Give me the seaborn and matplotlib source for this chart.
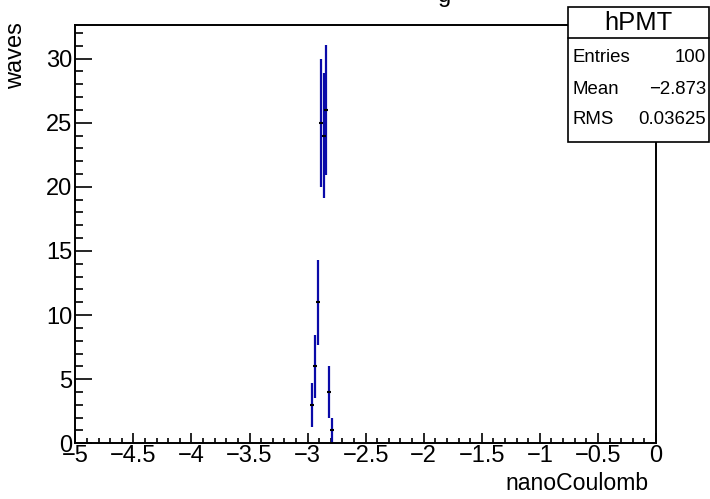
import numpy as np
import pandas as pd
import seaborn as sns
import matplotlib.pyplot as plt
from matplotlib.patches import Rectangle
from matplotlib.ticker import MultipleLocator

# Histogram hPMT: bin width 0.025 nC, only non-empty bins listed
bin_centers = [-2.9625, -2.9375, -2.9125, -2.8875, -2.8625, -2.8375, -2.8125, -2.7875]
counts = [3, 6, 11, 25, 24, 26, 4, 1]
x_ticks = [-5, -4.5, -4, -3.5, -3, -2.5, -2, -1.5, -1, -0.5, 0]
y_ticks = [0, 5, 10, 15, 20, 25, 30]
stat_names = ['Entries', 'Mean', 'RMS']
stat_values = ['100', '\u22122.873', '0.03625']

df = pd.DataFrame({'charge': bin_centers, 'waves': counts})
df['err'] = np.sqrt(df['waves'])

sns.set_style('ticks')
plt.rcParams['font.family'] = ['Liberation Sans', 'DejaVu Sans']
plt.rcParams['text.color'] = 'black'
plt.rcParams['xtick.color'] = 'black'
plt.rcParams['ytick.color'] = 'black'
plt.rcParams['axes.edgecolor'] = 'black'

W, H = 710, 499
fig = plt.figure(figsize=(W / 100, H / 100), dpi=100)
ax = fig.add_axes([75.3 / W, 1 - 443.3 / H, (656 - 75.3) / W, (443.3 - 24.5) / H])

# error bars (ROOT style: vertical lines only)
ax.vlines(df['charge'], df['waves'] - df['err'], df['waves'] + df['err'],
          color='#0a0aa8', linewidth=1.6, zorder=2)
sns.scatterplot(data=df, x='charge', y='waves', ax=ax, color='black',
                marker='_', s=8, linewidth=1.5, zorder=3, legend=False)

ax.set_xlim(-5, 0)
ax.set_ylim(0, 32.66)
ax.set_xticks(x_ticks)
ax.set_xticklabels([f'{t:g}'.replace('-', '\u2212') for t in x_ticks])
ax.set_yticks(y_ticks)
ax.xaxis.set_minor_locator(MultipleLocator(0.1))
ax.yaxis.set_minor_locator(MultipleLocator(1))
ax.tick_params(axis='x', which='major', direction='in', length=7.2, width=1.2,
               labelsize=17, pad=1, top=False)
ax.tick_params(axis='x', which='minor', direction='in', length=3.6, width=1.2, top=False)
ax.tick_params(axis='y', which='major', direction='in', length=12, width=1.2,
               labelsize=17, pad=2, right=False)
ax.tick_params(axis='y', which='minor', direction='in', length=6, width=1.2, right=False)
for sp in ax.spines.values():
    sp.set_linewidth(1.4)
    sp.set_visible(True)
ax.set_xlabel('')
ax.set_ylabel('')

fig.text(649 / W, 1 - 484 / H, 'nanoCoulomb', ha='right', va='center', fontsize=16.6)
fig.text(16 / W, 1 - 22 / H, 'waves', ha='center', va='top', rotation=90, fontsize=17)

# clipped title fragment at the very top
fig.text(445 / W, 1 - 2 / H, 'g', ha='center', va='baseline', fontsize=17)

# stat box
bx0, bx1, by0, by1, byh = 568.3, 709, 7.3, 141.7, 37.7
fig.patches.append(Rectangle((bx0 / W, 1 - by1 / H), (bx1 - bx0) / W, (by1 - by0) / H,
                             transform=fig.transFigure, facecolor='white',
                             edgecolor='black', linewidth=1.2, zorder=5))
fig.lines.append(plt.Line2D([bx0 / W, bx1 / W], [1 - byh / H, 1 - byh / H],
                            transform=fig.transFigure, color='black', linewidth=1.2, zorder=6))
fig.text((bx0 + bx1) / 2 / W, 1 - 23 / H, 'hPMT', ha='center', va='center',
         fontsize=18.4, zorder=7)
row_y = [58, 89, 119]
for name, val, yy in zip(stat_names, stat_values, row_y):
    fig.text(573 / W, 1 - yy / H, name, ha='left', va='center', fontsize=13.4, zorder=7)
    fig.text(706 / W, 1 - yy / H, val, ha='right', va='center', fontsize=13.4, zorder=7)

fig.savefig('out.png', dpi=100)
